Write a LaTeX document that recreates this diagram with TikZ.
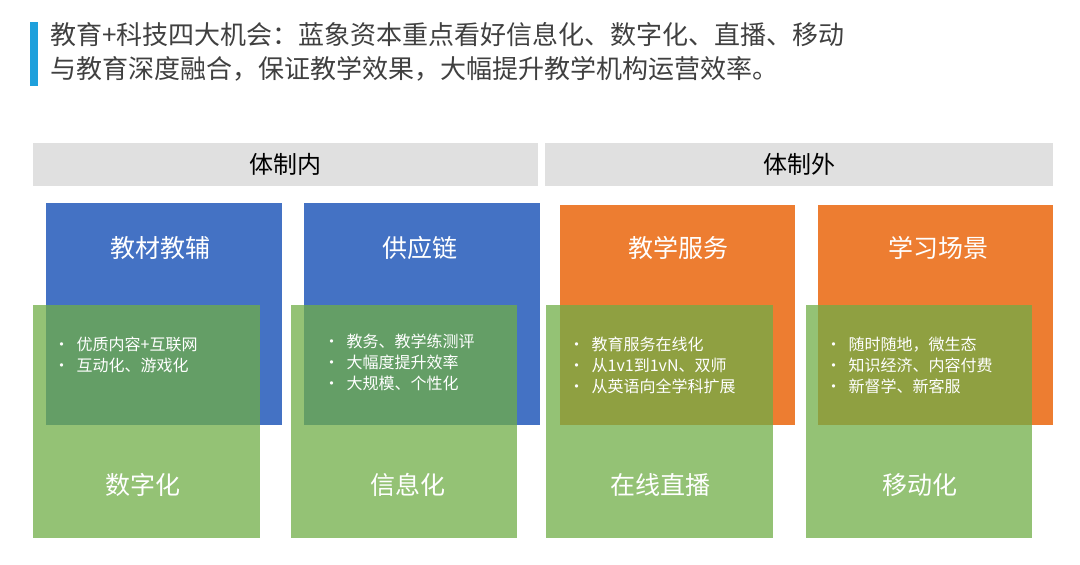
\documentclass[tikz,border=0pt]{standalone}
\usepackage{fontspec}
\setmainfont{Noto Sans CJK SC}
\begin{document}
\begin{tikzpicture}[x=1pt,y=-1pt,
  hdr/.style={fill=black!12,draw=none,anchor=north west,inner sep=0},
  topbox/.style={draw=none,anchor=north west,inner sep=0},
  grn/.style={fill={rgb,255:red,112;green,173;blue,71},fill opacity=0.75,draw=none,anchor=north west,inner sep=0},
  ttl/.style={text=white,font=\fontsize{25}{30}\selectfont},
  bul/.style={text=white,font=\fontsize{16}{21}\selectfont,align=left,anchor=north west}]
\definecolor{bblue}{RGB}{68,114,196}
\definecolor{borange}{RGB}{237,125,49}
\definecolor{tgray}{RGB}{64,64,64}
\useasboundingbox (0,0) rectangle (1080,565);
\fill[fill={rgb,255:red,30;green,160;blue,220}] (30,22) rectangle (38,86);
\node[anchor=north west,text=tgray,font=\fontsize{26}{34}\selectfont,align=left,inner sep=0] (title) at (50,22)
 {教育+科技四大机会：蓝象资本重点看好信息化、数字化、直播、移动\\与教育深度融合，保证教学效果，大幅提升教学机构运营效率。};
\node[hdr,minimum width=505,minimum height=43] (h1) at (33,143) {};
\node[font=\fontsize{24}{28}\selectfont] at (h1.center) {体制内};
\node[hdr,minimum width=508,minimum height=43] (h2) at (545,143) {};
\node[font=\fontsize{24}{28}\selectfont] at (h2.center) {体制外};
\node[topbox,fill=bblue,minimum width=236,minimum height=222] (b1) at (46,203) {};
\node[topbox,fill=bblue,minimum width=236,minimum height=222] (b2) at (304,203) {};
\node[topbox,fill=borange,minimum width=235,minimum height=220] (b3) at (560,205) {};
\node[topbox,fill=borange,minimum width=235,minimum height=220] (b4) at (818,205) {};
\node[ttl] at (160,248) {教材教辅};
\node[ttl] at (420,248) {供应链};
\node[ttl] at (678,248) {教学服务};
\node[ttl] at (938,248) {学习场景};
\node[grn,minimum width=227,minimum height=233] (g1) at (33,305) {};
\node[grn,minimum width=226,minimum height=233] (g2) at (291,305) {};
\node[grn,minimum width=227,minimum height=233] (g3) at (546,305) {};
\node[grn,minimum width=226,minimum height=233] (g4) at (806,305) {};
\node[bul] at (50,333) {•\ \ 优质内容+互联网\\•\ \ 互动化、游戏化};
\node[bul] at (320,330) {•\ \ 教务、教学练测评\\•\ \ 大幅度提升效率\\•\ \ 大规模、个性化};
\node[bul] at (565,333) {•\ \ 教育服务在线化\\•\ \ 从1v1到1vN、双师\\•\ \ 从英语向全学科扩展};
\node[bul] at (822,333) {•\ \ 随时随地，微生态\\•\ \ 知识经济、内容付费\\•\ \ 新督学、新客服};
\node[ttl] at (143,485) {数字化};
\node[ttl] at (408,485) {信息化};
\node[ttl] at (660,485) {在线直播};
\node[ttl] at (920,485) {移动化};
\end{tikzpicture}
\end{document}
